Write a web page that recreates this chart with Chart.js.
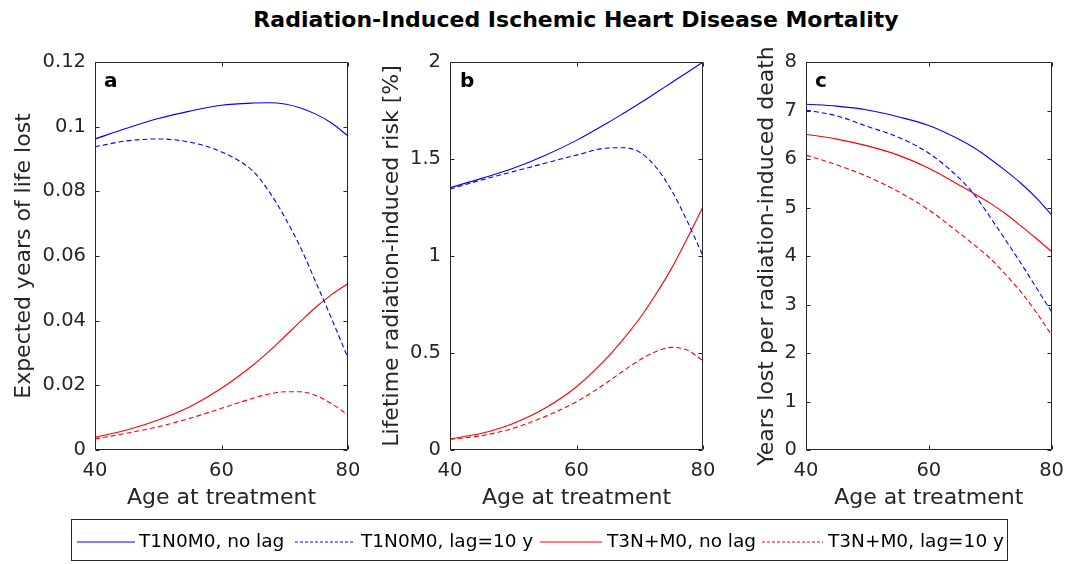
<!DOCTYPE html>
<html><head><meta charset="utf-8">
<script src="https://cdn.jsdelivr.net/npm/chart.js@4/dist/chart.umd.min.js"></script>
<style>
body{margin:0;width:1073px;height:564px;background:#fff;position:relative;overflow:hidden;font-family:'DejaVu Sans',sans-serif;}
.panel{position:absolute;top:40px;height:480px;}
canvas{display:block;}
#title{position:absolute;top:9px;left:576px;transform:translateX(-50%);white-space:nowrap;font-weight:bold;font-size:22px;line-height:22px;color:#000;}
.lett{position:absolute;font-weight:bold;font-size:20px;line-height:20px;color:#000;}
#legend{position:absolute;left:71px;top:519px;width:937px;height:42px;border:1px solid #262626;box-sizing:border-box;}
.lt{position:absolute;top:531px;font-size:18.5px;line-height:20px;color:#000;white-space:nowrap;}
svg.ls{position:absolute;top:537px;height:10px;}
</style></head><body>
<div id="title">Radiation-Induced Ischemic Heart Disease Mortality</div>
<div class="panel" style="left:0;width:380px"><canvas id="ca" width="380" height="480"></canvas></div>
<div class="panel" style="left:360px;width:380px"><canvas id="cb" width="380" height="480"></canvas></div>
<div class="panel" style="left:720px;width:353px"><canvas id="cc" width="353" height="480"></canvas></div>
<div class="lett" style="left:104px;top:70px">a</div>
<div class="lett" style="left:460px;top:70px">b</div>
<div class="lett" style="left:815px;top:70px">c</div>
<div id="legend"></div>
<svg class="ls" style="left:77px;width:58px"><line x1="0" y1="5" x2="58" y2="5" stroke="#0000ff" stroke-width="1.2"/></svg>
<span class="lt" style="left:139px">T1N0M0, no lag</span>
<svg class="ls" style="left:295px;width:58px"><line x1="0" y1="5" x2="58" y2="5" stroke="#0000ff" stroke-width="1.2" stroke-dasharray="3,2"/></svg>
<span class="lt" style="left:361px">T1N0M0, lag=10 y</span>
<svg class="ls" style="left:540px;width:62px"><line x1="0" y1="5" x2="62" y2="5" stroke="#ff0000" stroke-width="1.2"/></svg>
<span class="lt" style="left:607px">T3N+M0, no lag</span>
<svg class="ls" style="left:762px;width:61px"><line x1="0" y1="5" x2="61" y2="5" stroke="#ff0000" stroke-width="1.2" stroke-dasharray="3,2"/></svg>
<span class="lt" style="left:828px">T3N+M0, lag=10 y</span>
<script>
// ---- data ----
const ages = [40, 45, 50, 55, 60, 65, 67.5, 70, 72.5, 75, 77.5, 80];
const seriesNames = ['T1N0M0, no lag', 'T1N0M0, lag=10 y', 'T3N+M0, no lag', 'T3N+M0, lag=10 y'];

// panel a: expected years of life lost
const aT1NoLag = [0.0962, 0.0995, 0.1025, 0.1048, 0.1066, 0.1073, 0.1074, 0.1070, 0.1058, 0.1038, 0.1010, 0.0971];
const aT1Lag   = [0.0938, 0.0956, 0.0962, 0.0952, 0.0922, 0.0862, 0.0800, 0.0720, 0.0626, 0.0515, 0.0402, 0.0284];
const aT3NoLag = [0.0039, 0.0062, 0.0093, 0.0134, 0.0191, 0.0263, 0.0305, 0.0351, 0.0398, 0.0443, 0.0482, 0.0515];
const aT3Lag   = [0.0034, 0.0052, 0.0072, 0.0098, 0.0129, 0.0160, 0.0173, 0.0180, 0.0180, 0.0168, 0.0142, 0.0108];

// panel b: lifetime radiation-induced risk [%]
const bT1NoLag = [1.352, 1.400, 1.452, 1.518, 1.596, 1.688, 1.737, 1.787, 1.840, 1.893, 1.946, 2.000];
const bT1Lag   = [1.345, 1.392, 1.435, 1.478, 1.520, 1.557, 1.558, 1.535, 1.460, 1.340, 1.180, 1.000];
const bT3NoLag = [0.057, 0.086, 0.137, 0.215, 0.326, 0.481, 0.575, 0.679, 0.800, 0.935, 1.090, 1.254];
const bT3Lag   = [0.055, 0.074, 0.112, 0.172, 0.249, 0.352, 0.410, 0.464, 0.507, 0.529, 0.515, 0.460];

// panel c: years lost per radiation-induced death
const cT1NoLag = [7.13, 7.09, 7.01, 6.87, 6.69, 6.40, 6.22, 6.00, 5.76, 5.50, 5.20, 4.85];
const cT1Lag   = [7.01, 6.89, 6.67, 6.45, 6.12, 5.60, 5.25, 4.80, 4.33, 3.85, 3.35, 2.85];
const cT3NoLag = [6.51, 6.41, 6.27, 6.08, 5.81, 5.46, 5.28, 5.09, 4.87, 4.62, 4.36, 4.09];
const cT3Lag   = [6.08, 5.88, 5.64, 5.33, 4.95, 4.47, 4.22, 3.95, 3.62, 3.26, 2.84, 2.37];

// ticks
const xTickValues = [40, 60, 80];
const xTickLabels = ['40', '60', '80'];
const aYTickValues = [0, 0.02, 0.04, 0.06, 0.08, 0.1, 0.12];
const aYTickLabels = ['0', '0.02', '0.04', '0.06', '0.08', '0.1', '0.12'];
const bYTickValues = [0, 0.5, 1, 1.5, 2];
const bYTickLabels = ['0', '0.5', '1', '1.5', '2'];
const cYTickValues = [0, 1, 2, 3, 4, 5, 6, 7, 8];
const cYTickLabels = ['0', '1', '2', '3', '4', '5', '6', '7', '8'];

const xTitle = 'Age at treatment';
const aYTitle = 'Expected years of life lost';
const bYTitle = 'Lifetime radiation-induced risk [%]';
const cYTitle = 'Years lost per radiation-induced death';

// ---- rendering ----
const FONT = "'DejaVu Sans'";
const AX = '#262626';
const styles = [
  {color: '#0000ff', dash: []},
  {color: '#0000ff', dash: [5, 3]},
  {color: '#ff0000', dash: []},
  {color: '#ff0000', dash: [5, 3]}
];

const boxPlugin = {
  id: 'matlabBox',
  afterDraw(chart) {
    const {ctx, chartArea: {left, top, right, bottom}, scales: {x, y}} = chart;
    const L = Math.round(left) + 0.5, R = Math.round(right) - 0.5;
    const T = Math.round(top) + 0.5, B = Math.round(bottom) - 0.5;
    ctx.save();
    ctx.strokeStyle = AX;
    ctx.lineWidth = 1;
    ctx.beginPath();
    ctx.rect(L, T, R - L, B - T);
    const tl = 4;
    y.ticks.forEach(t => {
      const py = Math.round(y.getPixelForValue(t.value)) + 0.5;
      ctx.moveTo(L, py); ctx.lineTo(L + tl, py);
      ctx.moveTo(R, py); ctx.lineTo(R - tl, py);
    });
    x.ticks.forEach(t => {
      const px = Math.round(x.getPixelForValue(t.value)) + 0.5;
      ctx.moveTo(px, B); ctx.lineTo(px, B - tl);
      ctx.moveTo(px, T); ctx.lineTo(px, T + tl);
    });
    ctx.stroke();
    ctx.restore();
  }
};

function makePanel(id, seriesList, yVals, yLabels, yTitle, yWidth, padRight, titlePadTop) {
  const datasets = seriesList.map((vals, i) => ({
    label: seriesNames[i],
    data: ages.map((a, k) => ({x: a, y: vals[k]})),
    borderColor: styles[i].color,
    borderDash: styles[i].dash,
    borderWidth: 1.1,
    pointRadius: 0,
    fill: false,
    cubicInterpolationMode: 'monotone'
  }));
  new Chart(document.getElementById(id), {
    type: 'line',
    data: {datasets},
    plugins: [boxPlugin],
    options: {
      responsive: false,
      animation: false,
      events: [],
      layout: {padding: {left: 0, top: 22, right: padRight, bottom: 0}},
      plugins: {legend: {display: false}, tooltip: {enabled: false}, title: {display: false}},
      scales: {
        x: {
          type: 'linear', min: xTickValues[0], max: xTickValues[xTickValues.length - 1],
          grid: {display: false, drawTicks: false},
          border: {display: false},
          afterBuildTicks: s => { s.ticks = xTickValues.map(v => ({value: v})); },
          afterFit: s => { s.height = 70; },
          ticks: {autoSkip: false, maxRotation: 0, padding: 9, color: AX,
                  font: {family: FONT, size: 19.5},
                  callback: (v, i) => xTickLabels[i]},
          title: {display: true, text: xTitle, color: AX, font: {family: FONT, size: 22},
                  padding: {top: 0, bottom: 9}}
        },
        y: {
          type: 'linear', min: yVals[0], max: yVals[yVals.length - 1],
          grid: {display: false, drawTicks: false},
          border: {display: false},
          afterBuildTicks: s => { s.ticks = yVals.map(v => ({value: v})); },
          afterFit: s => { s.width = yWidth; },
          ticks: {autoSkip: false, padding: 9, color: AX,
                  font: {family: FONT, size: 19.5},
                  callback: (v, i) => yLabels[i]},
          title: {display: true, text: yTitle, color: AX, font: {family: FONT, size: 22},
                  padding: {top: titlePadTop, bottom: 0}}
        }
      }
    }
  });
}

makePanel('ca', [aT1NoLag, aT1Lag, aT3NoLag, aT3Lag], aYTickValues, aYTickLabels, aYTitle, 95, 32, 11);
makePanel('cb', [bT1NoLag, bT1Lag, bT3NoLag, bT3Lag], bYTickValues, bYTickLabels, bYTitle, 90, 37, 19);
makePanel('cc', [cT1NoLag, cT1Lag, cT3NoLag, cT3Lag], cYTickValues, cYTickLabels, cYTitle, 86, 14, 34);
</script>
</body></html>
